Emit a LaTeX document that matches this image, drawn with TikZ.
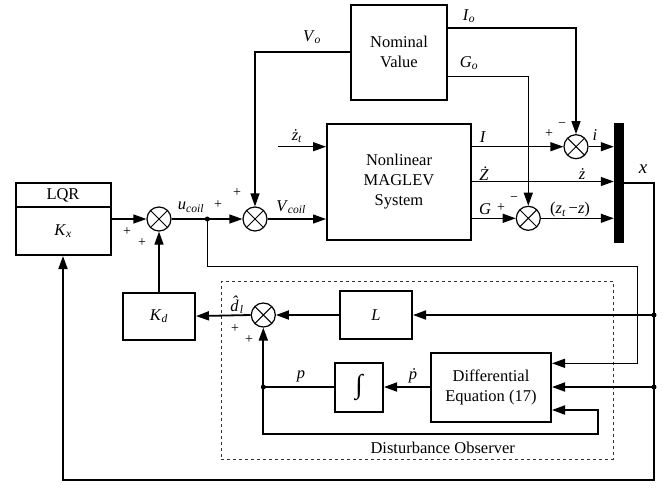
\documentclass[tikz,border=0pt]{standalone}
\usepackage{fontspec}
\setmainfont{Liberation Serif}
\usetikzlibrary{arrows.meta, positioning}
\newcommand{\varsub}[2]{\textit{#1}\textsubscript{\textit{#2}}}

\begin{document}
\begin{tikzpicture}[x=1pt, y=-1pt,
  font=\fontsize{16.5}{20}\selectfont,
  blk/.style={rectangle, draw, line width=2pt, align=center, inner sep=1pt},
  sumjn/.style={circle, draw, line width=1.2pt, minimum size=24pt, inner sep=0pt,
    path picture={\draw[line width=1pt] (path picture bounding box.north west) -- (path picture bounding box.south east)
      (path picture bounding box.north east) -- (path picture bounding box.south west);}},
  sig/.style={line width=1.2pt, -{Triangle[length=13pt, width=9pt]}},
  sigb/.style={line width=1.8pt, -{Triangle[length=13pt, width=9pt]}},
  wire/.style={line width=1.8pt},
  pm/.style={font=\fontsize{14}{16}\selectfont, inner sep=0pt},
  lbl/.style={inner sep=0pt}]

\useasboundingbox (0,0) rectangle (671,488);

% --- Nominal value and plant ---
\node[blk, minimum width=96pt, minimum height=95pt] (nom) at (399,52) {Nominal\\Value};
\node[blk, minimum width=144pt, minimum height=116pt, below=22pt of nom] (sys) {Nonlinear\\MAGLEV\\System};
\node[fill=black, minimum width=10pt, minimum height=120pt, inner sep=0pt] (bar) at (619,183.3) {};

% --- Summing junctions ---
\node[sumjn] (s1) at (159,219) {};
\node[sumjn] (s2) at (255,219) {};
\node[sumjn] (si) at (576,146.7) {};
\node[sumjn] (sz) at (528.3,218.3) {};
\node[sumjn] (sd) at (263.3,315) {};

% --- Controller ---
\node[blk, minimum width=95pt, minimum height=24pt] (lqrh) at (63,195) {LQR};
\node[blk, minimum width=95pt, minimum height=48pt, below=-2pt of lqrh] (lqr) {\varsub{K}{x}};
\node[blk, minimum width=72pt, minimum height=47pt, below=60pt of s1] (kd) {\varsub{K}{d}};

% --- Disturbance observer ---
\node[draw, dashed, line width=0.9pt, black!80, minimum width=392pt, minimum height=177.6pt] (dob) at (417.2,370.5) {};
\node[lbl] (dobtxt) at (442.7,448.3) {Disturbance Observer};
\node[blk, minimum width=72pt, minimum height=48pt] (L) at (376,315) {\textit{L}};
\node[blk, minimum width=120pt, minimum height=69pt] (de) at (491,387) {Differential\\Equation (17)};
\node[blk, minimum width=48pt, minimum height=49pt] (integ) at (359,387) {\fontsize{27}{27}\selectfont ∫};

% --- Nominal value arrows ---
\draw[sig] (nom.west) -| (s2.north);
\draw[sig] ([yshift=24pt]nom.east) -| (si.north);
\draw[sig] ([yshift=-24.3pt]nom.east) -| (sz.north);

% --- Plant arrows ---
\coordinate (zt) at (278,146.7);
\draw[sig] (zt) -- (zt -| sys.west);
\draw[sig] (s2.east) -- (s2.east -| sys.west);
\draw[sig] (si.west -| sys.east) -- (si.west);
\draw[sig] (sys.east) -- (sys.east -| bar.west);
\draw[sig] (sz.west -| sys.east) -- (sz.west);
\draw[sig] (si.east) -- (si.east -| bar.west);
\draw[sig] (sz.east) -- (sz.east -| bar.west);

% --- State feedback ---
\coordinate (xr) at (654,183.3);
\coordinate (xlow) at (654,480);
\draw[sigb] (bar.east |- xr) -- (xr) -- (xlow) -| (lqr.south);
\draw[sigb] (xr |- L) -- (L.east);
\fill (xr |- L) circle (2.5pt);
\draw[sigb] (xr |- de) -- (de.east);
\fill (xr |- de) circle (2.5pt);

% --- Control signal ---
\draw[sig] (s1 -| lqr.east) -- (s1.west);
\draw[sig] (kd.north) -- (s1.south);
\draw[sig] (s1.east) -- (s2.west);
\coordinate (tap) at (207.3,219);
\fill (tap) circle (2.5pt);
\coordinate (uc) at (637.7,266.7);
\draw[sig] (tap) -- (tap |- uc) -- (uc) |- ([yshift=23.7pt]de.east);

% --- Observer arrows ---
\draw[sigb] (L.west) -- (sd.east);
\draw[sigb] (sd.west) -- (kd.east);
\draw[sigb] (de.west) -- (integ.east);
\coordinate (jp) at (sd |- integ);
\draw[wire] (integ.west) -- (jp);
\fill (jp) circle (2.5pt);
\draw[sigb] (jp) -- (sd.south);
\coordinate (fb) at (598.3,434.3);
\draw[sigb] (jp) |- (fb) |- ([yshift=-23pt]de.east);

% --- Labels ---
\node[lbl] at (312,37) {\varsub{V}{o}};
\node[lbl] at (469,16) {\varsub{I}{o}};
\node[lbl] at (469,63) {\varsub{G}{o}};
\node[lbl] at (297,136) {\varsub{\.{z}}{t}};
\node[lbl] at (291,207) {\varsub{V}{coil}};
\node[lbl] at (191,207) {\varsub{u}{coil}};
\node[pm] at (218,205) {+};
\node[pm] at (237,193) {+};
\node[pm] at (127,232) {+};
\node[pm] at (142,243) {+};
\node[lbl] at (483,137) {\textit{I}};
\node[lbl] at (484,174) {\textit{\.{Z}}};
\node[lbl] at (582,174) {\textit{\.{z}}};
\node[lbl] at (485,209) {\textit{G}};
\node[pm] at (501,208) {+};
\node[pm] at (514,199) {−};
\node[lbl] at (570,210) {(\varsub{z}{t}\,−\textit{z})};
\node[pm] at (549,134) {+};
\node[pm] at (562,125) {−};
\node[lbl] at (595,135) {\textit{i}};
\node[lbl, font=\fontsize{19}{22}\selectfont] at (643,169) {\textit{x}};
\node[lbl] at (237,305) {\textit{\^{d}}\kern-0.3em\textsubscript{\textit{l}}};
\node[pm] at (235,329) {+};
\node[pm] at (249,340) {+};
\node[lbl] at (301,376) {\textit{p}};
\node[lbl] at (413,376) {\textit{\.{p}}};

\end{tikzpicture}
\end{document}
